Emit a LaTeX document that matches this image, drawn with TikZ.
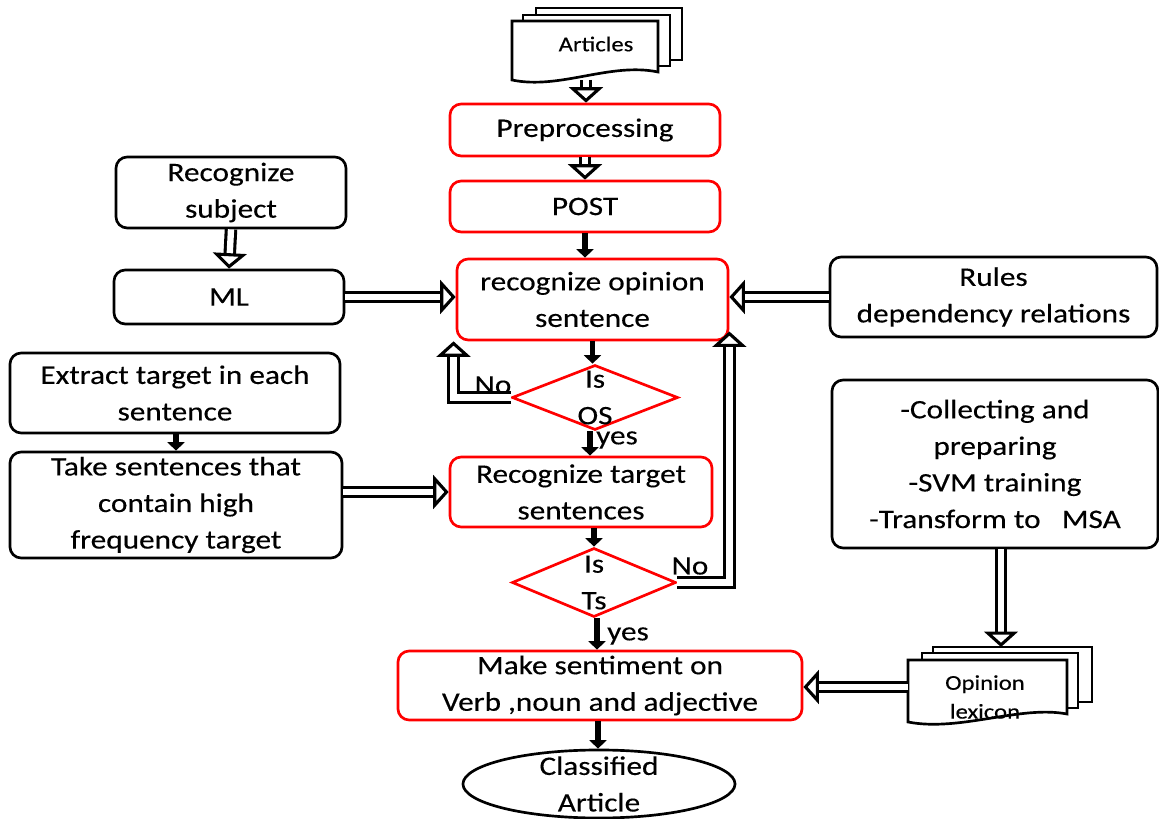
\documentclass[tikz,border=0pt]{standalone}
\usepackage{fontspec}
\setmainfont{Carlito}[FakeStretch=1.17,FakeBold=0.3]
\usepackage{tikz}
\usetikzlibrary{arrows.meta,shapes.geometric}

\begin{document}
\begin{tikzpicture}[x=0.025cm, y=-0.025cm,
    box/.style={draw, rounded corners=8pt, line width=1.9pt, inner sep=0pt, align=center, font=\fontsize{19}{26}\selectfont},
    redbox/.style={box, draw=red},
    txt/.style={inner sep=0pt, align=center, font=\fontsize{19}{26}\selectfont},
    smalltxt/.style={inner sep=0pt, align=center, font=\fontsize{15}{20.5}\selectfont},
    decide/.style={diamond, draw=red, line width=1.9pt, inner sep=0pt},
    sheet/.style={fill=white, line width=1.9pt},
    flow/.style={line width=4.2pt, -{Triangle[length=6pt,width=12pt]}},
    dbl/.style={double=white, double distance=4.5pt, line width=2.2pt, -{Triangle[open,length=11pt,width=24pt]}}]
    \useasboundingbox (0,0) rectangle (1159,819);
    % input documents
    \filldraw[sheet] (536,8) rectangle (682,60);
    \filldraw[sheet] (523,15) rectangle (670,66);
    \filldraw[sheet] (512,21) -- (658,21) -- (658,72) .. controls (610,62) and (560,90) .. (512,80) -- cycle;
    \node[smalltxt] (articles) at (596,44) {Articles};
    \coordinate (articlesbot) at (586,80);
    \filldraw[sheet] (933,647) rectangle (1092,702);
    \filldraw[sheet] (922,653) rectangle (1078,708);
    \filldraw[sheet] (908,660) -- (1067,660) -- (1067,714) .. controls (1020,705) and (960,732) .. (908,722) -- cycle;
    \node[smalltxt] (lexicon) at (985,697) {Opinion\\lexicon};
    \coordinate (lexicontop) at (1001,647);
    \coordinate (lexiconleft) at (908,687);
    % main column
    \node[redbox, minimum width=6.75cm, minimum height=1.3cm] (prep) at (585,130) {Preprocessing};
    \node[redbox, minimum width=6.75cm, minimum height=1.275cm] (post) at (585,206.5) {POST};
    \node[redbox, minimum width=6.775cm, minimum height=2.025cm] (opinion) at (592.5,299.5) {recognize opinion\\sentence};
    \node[decide, minimum width=4.15cm, minimum height=1.625cm, label={[txt]center:{Is\\OS}}] (isos) at (595,397.5) {};
    \node[redbox, minimum width=6.55cm, minimum height=1.75cm] (target) at (581,492) {Recognize target\\sentences};
    \node[decide, minimum width=4.1cm, minimum height=1.725cm, label={[txt]center:{Is\\Ts}}] (ists) at (594,582.5) {};
    \node[redbox, minimum width=10.1cm, minimum height=1.725cm] (make) at (600,685.5) {Make sentiment on\\Verb ,noun and adjective};
    \node[ellipse, draw, line width=1.9pt, inner sep=0pt, minimum width=6.8cm, minimum height=1.7cm, label={[txt]center:{Classified\\Article}}] (classified) at (599,784) {};
    % side boxes
    \node[box, minimum width=5.75cm, minimum height=1.775cm] (subject) at (231,192.5) {Recognize\\subject};
    \node[box, minimum width=5.75cm, minimum height=1.35cm] (ml) at (229,297) {ML};
    \node[box, minimum width=8.25cm, minimum height=2cm] (extract) at (175,393) {Extract target in each\\sentence};
    \node[box, minimum width=8.3cm, minimum height=2.65cm] (take) at (176,505) {Take sentences that\\contain high\\frequency target};
    \node[box, minimum width=8.175cm, minimum height=2cm] (rules) at (993.5,297) {Rules\\dependency relations};
    \node[box, minimum width=8.15cm, minimum height=4.2cm] (collect) at (995,464) {-Collecting and\\preparing\\-SVM training\\-Transform to \ \ MSA};
    % connectors
    \draw[dbl] (articlesbot) -- (articlesbot |- prep.north);
    \draw[dbl] (prep.south) -- (post.north);
    \draw[flow] (post.south) -- (post.south |- opinion.north);
    \draw[dbl] (subject.south) -- (ml.north);
    \draw[dbl] (ml.east) -- (ml.east -| opinion.west);
    \draw[dbl] (rules.west) -- (rules.west -| opinion.east);
    \draw[flow] (opinion.south) -- (opinion.south |- isos.north);
    \draw[dbl] (isos.west) -| ([xshift=-1.5pt]opinion.south west);
    \node[txt] (no1) at (493,385) {No};
    \draw[flow] (isos.south -| 590,0) -- (target.north -| 590,0);
    \node[txt] (yes1) at (617,440) {yes};
    \draw[flow] (extract.south -| take.north) -- (take.north);
    \draw[dbl] (take.east |- target.west) -- (target.west);
    \draw[flow] (ists.north |- target.south) -- (ists.north);
    \draw[dbl] (ists.east) -| ([yshift=7pt]opinion.south east);
    \node[txt] (no2) at (690,566) {No};
    \draw[flow] (ists.south -| 597,0) -- (make.north -| 597,0);
    \node[txt] (yes2) at (628,636) {yes};
    \draw[dbl] (lexicontop |- collect.south) -- (lexicontop);
    \draw[dbl] (lexiconleft) -- (lexiconleft -| make.east);
    \draw[flow] (make.south -| 598,0) -- (classified.north -| 598,0);
\end{tikzpicture}
\end{document}
